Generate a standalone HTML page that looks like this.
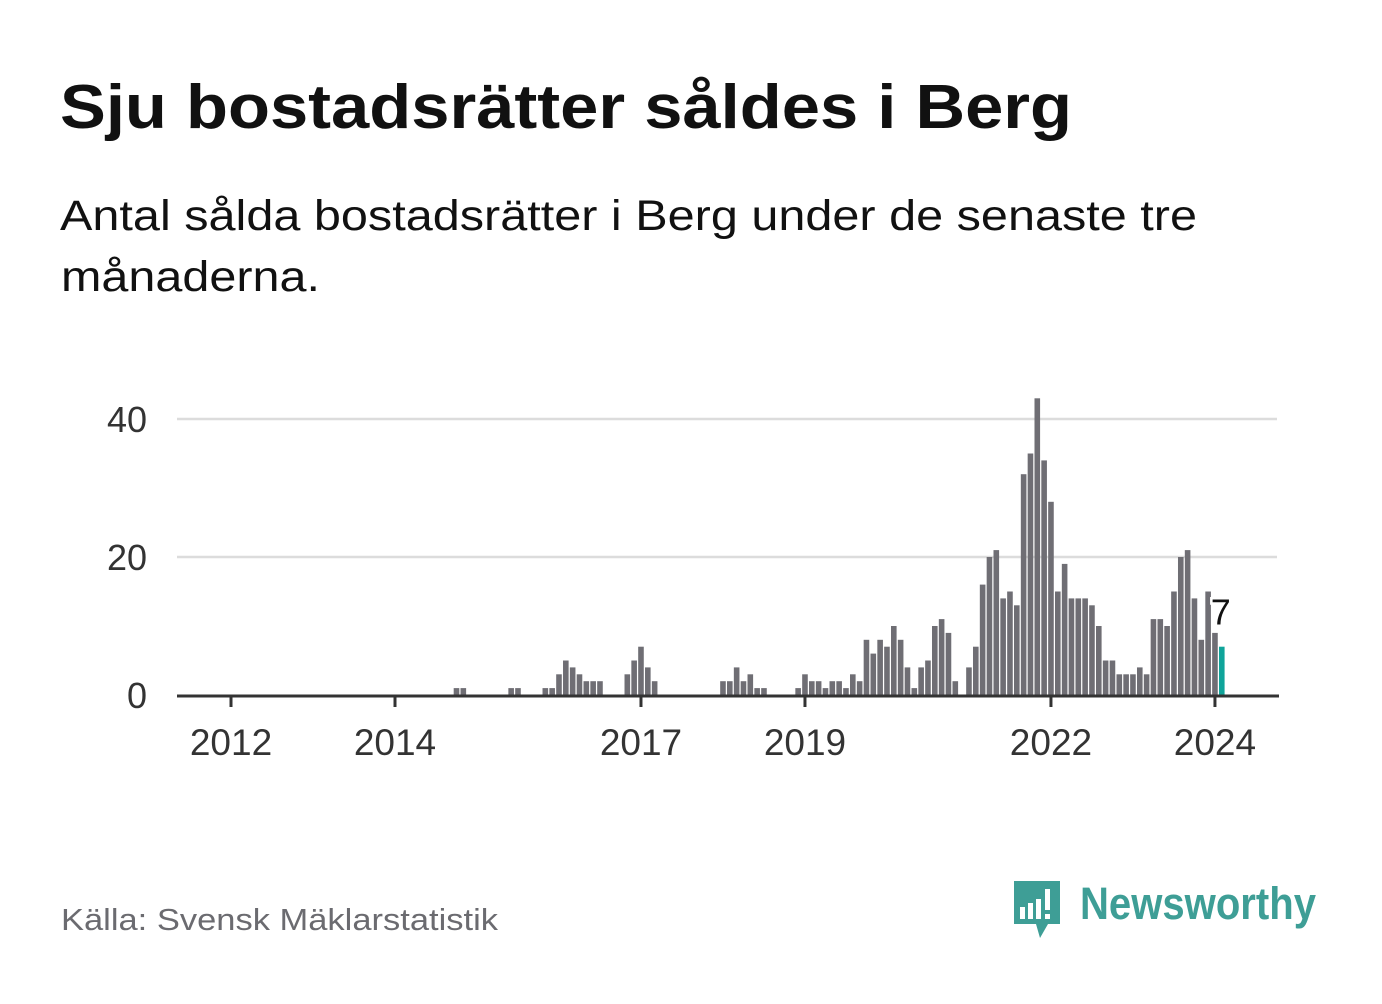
<!DOCTYPE html>
<html><head><meta charset="utf-8"><style>
body{margin:0;background:#fff;width:1382px;height:999px;overflow:hidden;font-family:"Liberation Sans",sans-serif;}
</style></head><body>
<svg width="1382" height="999" xmlns="http://www.w3.org/2000/svg">
<text x="60" y="128" font-size="62" font-weight="bold" fill="#111" textLength="1012" lengthAdjust="spacingAndGlyphs" font-family="Liberation Sans, sans-serif">Sju bostadsrätter såldes i Berg</text>
<text x="60" y="230" font-size="43" fill="#111" textLength="1137" lengthAdjust="spacingAndGlyphs" font-family="Liberation Sans, sans-serif">Antal sålda bostadsrätter i Berg under de senaste tre</text>
<text x="61" y="291" font-size="43" fill="#111" textLength="259" lengthAdjust="spacingAndGlyphs" font-family="Liberation Sans, sans-serif">månaderna.</text>
<g id="grid"></g>
<g id="bars"></g>
<g id="xaxis"></g>
<text x="61" y="930" font-size="31" fill="#6b6b70" textLength="437" lengthAdjust="spacingAndGlyphs" font-family="Liberation Sans, sans-serif">Källa: Svensk Mäklarstatistik</text>
<g>
<path d="M1014 881 H1060 V924 H1048 L1040 938 L1036 924 H1014 Z" fill="#3e9e96"/>
<rect x="1020" y="907" width="5" height="12" fill="#fff"/>
<rect x="1028" y="903" width="5" height="16" fill="#fff"/>
<rect x="1036" y="899" width="5" height="20" fill="#fff"/>
<rect x="1045" y="889" width="5" height="21" fill="#fff"/>
<rect x="1045" y="914" width="5" height="5" fill="#fff"/>
<text x="1080" y="919" font-size="45" font-weight="bold" fill="#3e9e96" textLength="236" lengthAdjust="spacingAndGlyphs" font-family="Liberation Sans, sans-serif">Newsworthy</text>
</g>
</svg>
<script>
const startYear = 2012;
const values = [0,0,0,0,0,0,0,0,0,0,0,0, 0,0,0,0,0,0,0,0,0,0,0,0, 0,0,0,0,0,0,0,0,0,1,1,0, 0,0,0,0,0,1,1,0,0,0,1,1, 3,5,4,3,2,2,2,0,0,0,3,5, 7,4,2,0,0,0,0,0,0,0,0,0, 2,2,4,2,3,1,1,0,0,0,0,1, 3,2,2,1,2,2,1,3,2,8,6,8, 7,10,8,4,1,4,5,10,11,9,2,0, 4,7,16,20,21,14,15,13,32,35,43,34, 28,15,19,14,14,14,13,10,5,5,3,3, 3,4,3,11,11,10,15,20,21,14,8,15, 9,7];
const yTicks = [0,20,40];
const xTickYears = [2012,2014,2017,2019,2022,2024];
const NS="http://www.w3.org/2000/svg";
const x0=231, monthW=6.833, y0=695, unitH=6.9;
const xPos = i => x0 + monthW*i;
const yPos = v => y0 - unitH*v;
function mk(tag, attrs, parent){const e=document.createElementNS(NS,tag);for(const k in attrs)e.setAttribute(k,attrs[k]);parent.appendChild(e);return e;}
const grid=document.getElementById('grid');
yTicks.forEach(t=>{
  if(t>0){const l=mk('line',{x1:177,x2:1277,y1:yPos(t),y2:yPos(t),stroke:'#dcdcdc','stroke-width':2.5},grid);
  
  }
  const tx=mk('text',{x:147,y:yPos(t)+13,'text-anchor':'end','font-size':36,fill:'#333','font-family':'Liberation Sans, sans-serif'},grid);
  tx.textContent=t;
  
  
});
const bars=document.getElementById('bars');
values.forEach((v,i)=>{
  if(v<=0)return;
  const last=i===values.length-1;
  const r=mk('rect',{x:xPos(i)-2.8,y:yPos(v),width:5.6,height:unitH*v,fill:last?'#10a49a':'#6f6e74'},bars);
  
  
});
const li=values.length-1;
const lab=mk('text',{x:xPos(li)-1,y:yPos(values[li])-22,'text-anchor':'middle','font-size':36,fill:'#111',stroke:'#fff','stroke-width':5,'paint-order':'stroke','font-family':'Liberation Sans, sans-serif'},bars);
lab.textContent=values[li];


const xa=document.getElementById('xaxis');
const base=mk('line',{x1:177,x2:1279,y1:y0+1,y2:y0+1,stroke:'#333','stroke-width':3},xa);


xTickYears.forEach(yr=>{
  const x=xPos((yr-startYear)*12);
  const t=mk('line',{x1:x,x2:x,y1:y0,y2:y0+12,stroke:'#333','stroke-width':3},xa);
  
  
  const tx=mk('text',{x:x,y:755,'text-anchor':'middle','font-size':37,fill:'#333','font-family':'Liberation Sans, sans-serif'},xa);
  tx.textContent=yr;
  
  
});
</script>
</body></html>
